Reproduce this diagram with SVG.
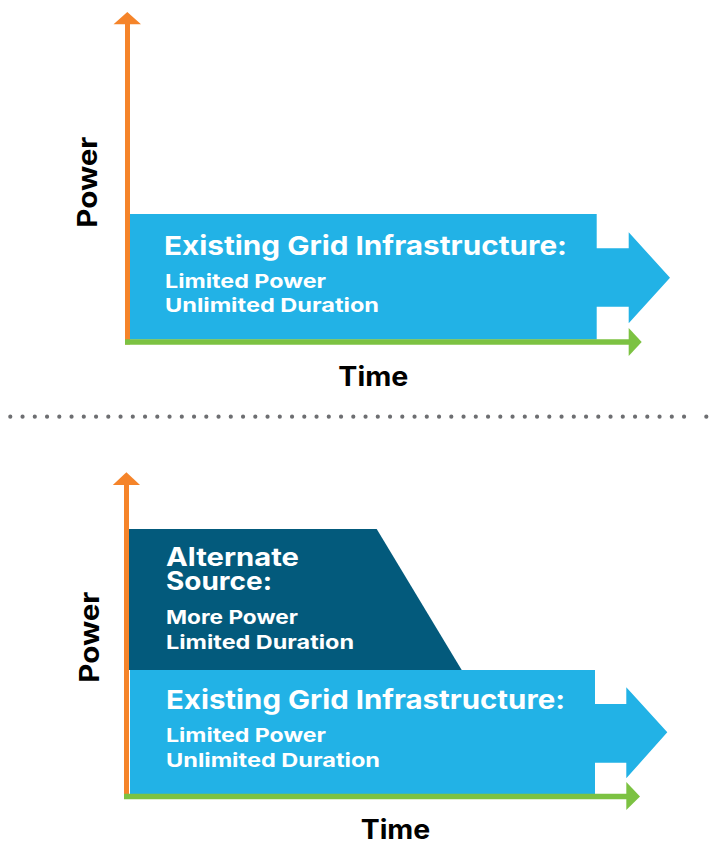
<svg xmlns="http://www.w3.org/2000/svg" width="716" height="844" viewBox="0 0 716 844">
  <style>
    .grid { fill: #22b2e6; }
    .alt { fill: #035a7c; }
    .axis-y { stroke: #f5842a; stroke-width: 5; fill: none; }
    .axis-x { stroke: #7cc242; stroke-width: 5.5; fill: none; }
    .head-y { fill: #f5842a; }
    .head-x { fill: #7cc242; }
    .t { font-family: Inter, "Open Sans", "Liberation Sans", sans-serif; }
    .title { font-size: 26px; font-weight: 700; fill: #ffffff; }
    .stack { font-size: 25px; }
    .sub { font-size: 19px; font-weight: 700; fill: #ffffff; }
    .label { font-size: 26.5px; font-weight: 700; fill: #000000; }
    .dots { stroke: #6d6e71; stroke-width: 4.2; stroke-linecap: round; stroke-dasharray: 0 12.25; fill: none; }
  </style>

  <!-- Upper chart: grid supply only -->
  <g id="grid-top">
    <path class="grid" d="M130,214 H596.7 V248.3 H628.7 V232.3 L670,277.7 L628.7,323.3 V306.7 H596.7 V339.5 H130 Z"/>
    <text class="t title" x="164" y="255" textLength="403" lengthAdjust="spacingAndGlyphs">Existing Grid Infrastructure:</text>
    <text class="t sub" x="165" y="288.3" textLength="161" lengthAdjust="spacingAndGlyphs">Limited Power</text>
    <text class="t sub" x="165" y="312.3" textLength="214" lengthAdjust="spacingAndGlyphs">Unlimited Duration</text>
  </g>

  <!-- Separator -->
  <g id="separator">
    <line class="dots" x1="10.3" y1="416.7" x2="696.3" y2="416.7"/>
    <circle cx="706.3" cy="416.7" r="2.1" fill="#6d6e71"/>
  </g>

  <!-- Lower chart: grid supply plus alternate source -->
  <g id="grid-bottom">
    <path class="grid" d="M130,670 H595 V704 H626.3 V687.3 L667.3,732.3 L626.3,778.3 V762.7 H595 V796 H130 Z"/>
    <text class="t title" x="166" y="709.3" textLength="399" lengthAdjust="spacingAndGlyphs">Existing Grid Infrastructure:</text>
    <text class="t sub" x="166" y="741.7" textLength="160" lengthAdjust="spacingAndGlyphs">Limited Power</text>
    <text class="t sub" x="166" y="767.3" textLength="214" lengthAdjust="spacingAndGlyphs">Unlimited Duration</text>
  </g>

  <g id="alternate-source">
    <path class="alt" d="M129,529 H376.7 L461.7,670 H129 Z"/>
    <text class="t title stack"><tspan x="166" y="566" textLength="133" lengthAdjust="spacingAndGlyphs">Alternate</tspan><tspan x="166" y="590" textLength="106" lengthAdjust="spacingAndGlyphs">Source:</tspan></text>
    <text class="t sub" x="166" y="624" textLength="132" lengthAdjust="spacingAndGlyphs">More Power</text>
    <text class="t sub" x="166" y="649.3" textLength="188" lengthAdjust="spacingAndGlyphs">Limited Duration</text>
  </g>

  <!-- Axes -->
  <g id="connectors">
    <line class="axis-y" x1="127.5" y1="23" x2="127.5" y2="344.5"/>
    <polygon class="head-y" points="127.3,12 141,24.3 113.5,24.3"/>
    <line class="axis-x" x1="125" y1="342" x2="630" y2="342"/>
    <polygon class="head-x" points="641.7,342 628.7,328 628.7,356"/>

    <line class="axis-y" x1="126.5" y1="484" x2="126.5" y2="799"/>
    <polygon class="head-y" points="126.4,472.3 140,485 112.8,485"/>
    <line class="axis-x" x1="124" y1="796.5" x2="627.5" y2="796.5"/>
    <polygon class="head-x" points="640,796.5 626.3,782 626.3,810"/>
  </g>

  <!-- Axis labels -->
  <g id="axis-labels">
    <text class="t label" x="338.3" y="386" textLength="70" lengthAdjust="spacingAndGlyphs">Time</text>
    <text class="t label" transform="translate(97,227.7) rotate(-90)" x="0" y="0" textLength="91" lengthAdjust="spacingAndGlyphs">Power</text>
    <text class="t label" x="360.7" y="839.3" textLength="69.5" lengthAdjust="spacingAndGlyphs">Time</text>
    <text class="t label" transform="translate(99,682.7) rotate(-90)" x="0" y="0" textLength="91" lengthAdjust="spacingAndGlyphs">Power</text>
  </g>
</svg>
